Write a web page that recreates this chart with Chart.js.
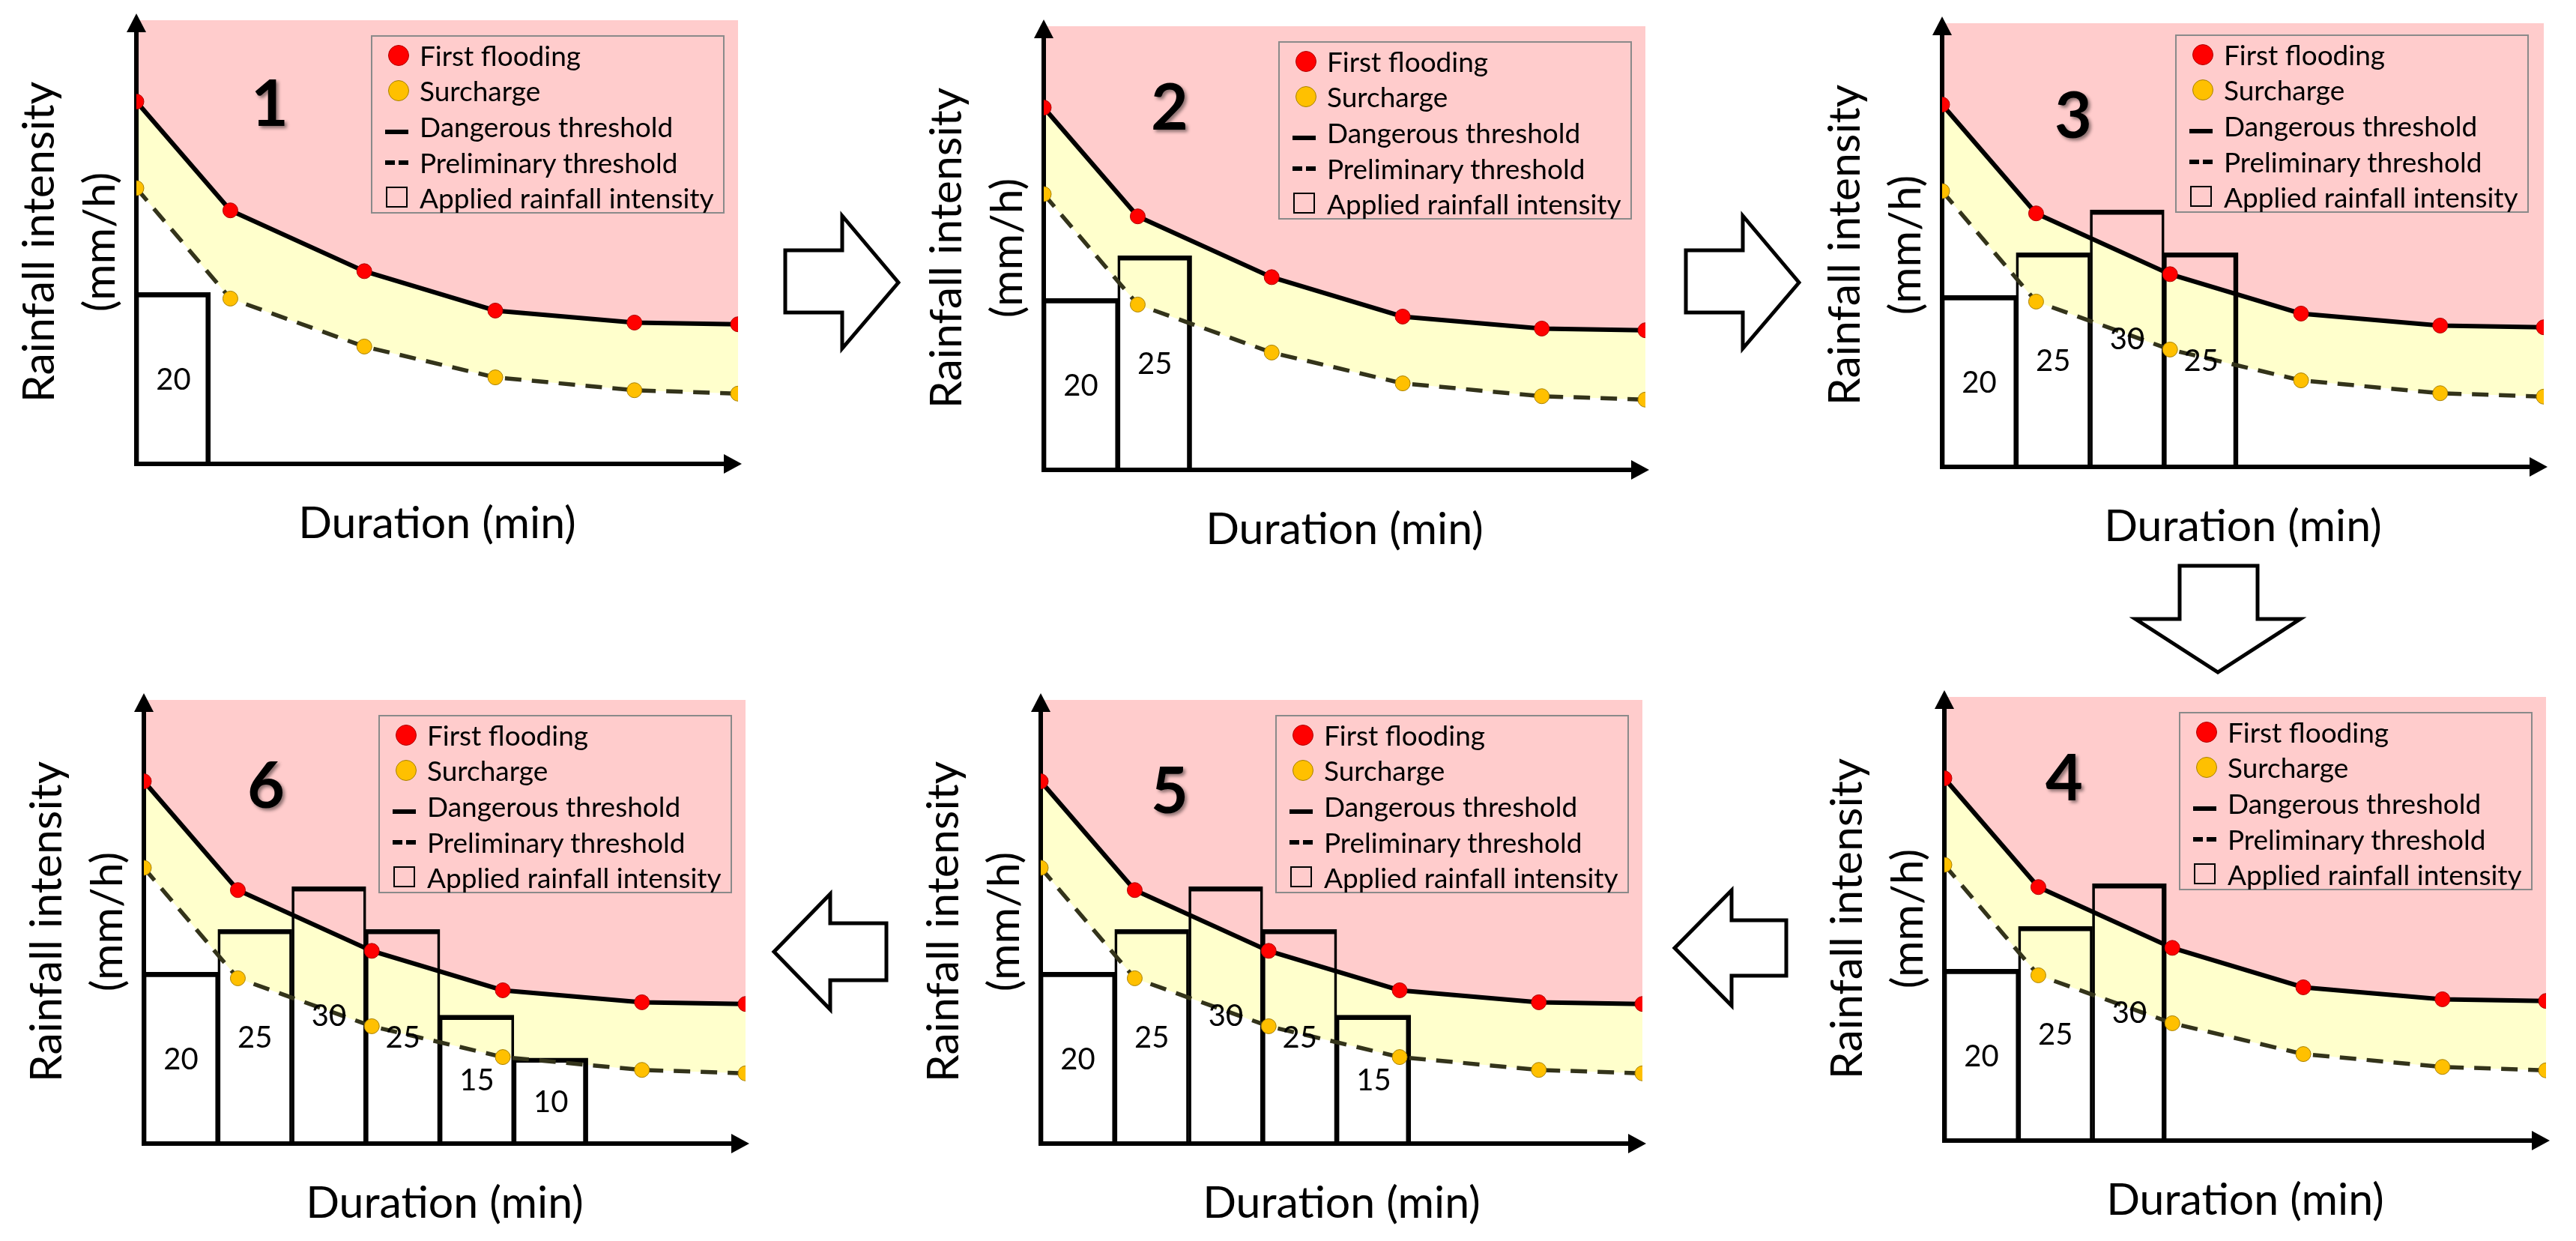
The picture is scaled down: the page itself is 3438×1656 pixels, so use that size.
<!DOCTYPE html>
<html>
<head>
<meta charset="utf-8">
<script src="https://cdn.jsdelivr.net/npm/chart.js@4.4.1/dist/chart.umd.min.js"></script>
<style>
  html, body { margin: 0; padding: 0; background: #fff; }
  body { width: 3438px; height: 1656px; position: relative; overflow: hidden; font-family: Lato, "Open Sans", sans-serif; }
  canvas.panel { position: absolute; }
  .legend { position: absolute; width: 472px; height: 238px; border: 2px solid #8a8a8a; box-sizing: border-box; }
  .legend .row { position: absolute; left: 63px; height: 48px; line-height: 48px; font-size: 37px; white-space: nowrap; color: #000; }
  .legend .sym { position: absolute; box-sizing: border-box; }
  .num { position: absolute; font-weight: 700; font-size: 86px; line-height: 1; transform: translate(-50%, -50%); text-shadow: 3px 3px 4px rgba(0, 0, 0, 0.45); color: #000; }
  #arrows { position: absolute; left: 0; top: 0; }
</style>
</head>
<body>
<svg id="arrows" width="3438" height="1656">
  <g fill="#fff" stroke="#000" stroke-width="5" stroke-linejoin="miter">
    <polygon points="1048,334 1124,334 1124,288 1199,377 1124,465 1124,417 1048,417"/>
    <polygon points="2250,334 2326,334 2326,288 2401,377 2326,465 2326,417 2250,417"/>
    <polygon points="2909,755 3013,755 3013,826 3070,826 2960,897 2850,826 2909,826"/>
    <polygon points="2384,1228 2311,1228 2311,1188 2235,1265 2311,1342 2311,1302 2384,1302"/>
    <polygon points="1183,1232 1108,1232 1108,1193 1033,1270 1108,1347 1108,1308 1183,1308"/>
  </g>
</svg>
<script>
// durations of the threshold points (min) and thresholds (mm/h)
const durations = [0, 12.7, 30.8, 48.5, 67.3, 81.3];
const firstFlooding = [42.3, 29.6, 22.5, 17.9, 16.5, 16.3];
const surcharge = [32.2, 19.3, 13.7, 10.1, 8.6, 8.2];

// applied rainfall intensity, one block per step
const appliedStep = 10;
const applied1 = [20];
const applied2 = [20, 25];
const applied3 = [20, 25, 30, 25];
const applied4 = [20, 25, 30];
const applied5 = [20, 25, 30, 25, 15];
const applied6 = [20, 25, 30, 25, 15, 10];

const legendLabels = ["First flooding", "Surcharge", "Dangerous threshold", "Preliminary threshold", "Applied rainfall intensity"];

const panels = [
  { name: "1", bars: applied1, x: 182, y: 619, nx: 178, ny: 108, lx: 313, ly: 20 },
  { name: "2", bars: applied2, x: 1393, y: 627, nx: 168, ny: 105, lx: 313, ly: 20 },
  { name: "3", bars: applied3, x: 2592, y: 623, nx: 175, ny: 120, lx: 311, ly: 15 },
  { name: "4", bars: applied4, x: 2595, y: 1522, nx: 160, ny: 105, lx: 313, ly: 20 },
  { name: "5", bars: applied5, x: 1389, y: 1526, nx: 172, ny: 118, lx: 313, ly: 20 },
  { name: "6", bars: applied6, x: 192, y: 1526, nx: 163, ny: 111, lx: 313, ly: 20 },
];

Chart.defaults.font.family = "Lato";
Chart.defaults.color = "#000";

const axisArrows = {
  id: "axisArrows",
  beforeDatasetsDraw(chart) {
    const { ctx, chartArea: a, scales } = chart;
    const x0 = scales.x.getPixelForValue(0);
    const y0 = scales.y.getPixelForValue(0);
    ctx.save();
    ctx.strokeStyle = "#000";
    ctx.fillStyle = "#000";
    ctx.lineWidth = 6;
    ctx.beginPath();
    ctx.moveTo(x0, y0 + 3);
    ctx.lineTo(x0, a.top + 10);
    ctx.moveTo(x0 - 3, y0);
    ctx.lineTo(a.right - 10, y0);
    ctx.stroke();
    // heads
    ctx.beginPath();
    ctx.moveTo(x0, a.top - 9);
    ctx.lineTo(x0 - 13, a.top + 16);
    ctx.lineTo(x0 + 13, a.top + 16);
    ctx.closePath();
    ctx.fill();
    ctx.beginPath();
    ctx.moveTo(a.right + 5, y0);
    ctx.lineTo(a.right - 19, y0 - 13);
    ctx.lineTo(a.right - 19, y0 + 13);
    ctx.closePath();
    ctx.fill();
    ctx.restore();
  },
  afterDatasetsDraw(chart) {
    const { ctx } = chart;
    const meta = chart.getDatasetMeta(2);
    const vals = chart.data.datasets[2].data;
    ctx.save();
    ctx.font = "40px Lato";
    ctx.fillStyle = "#000";
    ctx.textAlign = "center";
    ctx.textBaseline = "middle";
    meta.data.forEach((bar, i) => {
      ctx.fillText(String(vals[i].y), bar.x, (bar.y + bar.base) / 2 + 2);
    });
    ctx.restore();
  },
};

function addLegend(p, top) {
  const box = document.createElement("div");
  box.className = "legend";
  box.style.left = (p.x + p.lx) + "px";
  box.style.top = (top + p.ly) + "px";
  const centers = [25, 72, 120, 168, 215];
  centers.forEach((c, i) => {
    const row = document.createElement("div");
    row.className = "row";
    row.style.top = (c - 24) + "px";
    row.textContent = legendLabels[i];
    box.appendChild(row);
  });
  const syms = [
    { l: 21, t: 11, w: 28, h: 28, bg: "#ff0000", b: "1px solid #b00000", r: "50%" },
    { l: 21, t: 58, w: 28, h: 28, bg: "#ffc000", b: "1px solid #a88000", r: "50%" },
    { l: 17, t: 124, w: 31, h: 6, bg: "#000" },
    { l: 17, t: 165, w: 13, h: 6, bg: "#000" },
    { l: 35, t: 165, w: 13, h: 6, bg: "#000" },
    { l: 18, t: 200, w: 29, h: 28, bg: "transparent", b: "2.5px solid #000" },
  ];
  syms.forEach((s) => {
    const d = document.createElement("div");
    d.className = "sym";
    d.style.left = s.l + "px";
    d.style.top = s.t + "px";
    d.style.width = s.w + "px";
    d.style.height = s.h + "px";
    d.style.background = s.bg;
    if (s.b) d.style.border = s.b;
    if (s.r) d.style.borderRadius = s.r;
    box.appendChild(d);
  });
  document.body.appendChild(box);
}

function makePanel(p) {
  const top = p.y - 592;
  const canvas = document.createElement("canvas");
  canvas.className = "panel";
  canvas.width = 1010;
  canvas.height = 742;
  canvas.style.left = (p.x - 182) + "px";
  canvas.style.top = (top - 20) + "px";
  document.body.appendChild(canvas);

  new Chart(canvas, {
    type: "line",
    data: {
      datasets: [
        {
          label: legendLabels[2],
          data: durations.map((d, i) => ({ x: d, y: firstFlooding[i] })),
          borderColor: "#000",
          borderWidth: 6,
          backgroundColor: "#ffcccc",
          fill: "end",
          tension: 0,
          pointRadius: 10,
          pointBackgroundColor: "#ff0000",
          pointBorderColor: "#b00000",
          pointBorderWidth: 1,
          order: 1,
        },
        {
          label: legendLabels[3],
          data: durations.map((d, i) => ({ x: d, y: surcharge[i] })),
          borderColor: "#33331a",
          borderWidth: 5.5,
          borderDash: [22, 14],
          backgroundColor: "#ffffcc",
          fill: "-1",
          tension: 0,
          pointRadius: 10,
          pointBackgroundColor: "#ffc000",
          pointBorderColor: "#a88000",
          pointBorderWidth: 1,
          order: 2,
        },
        {
          type: "bar",
          label: legendLabels[4],
          data: p.bars.map((v, i) => ({ x: appliedStep * (i + 0.5), y: v })),
          backgroundColor: "rgba(0,0,0,0)",
          borderColor: "#000",
          borderWidth: (c) => ({
            top: 6,
            bottom: 0,
            left: 3,
            right: c.dataIndex === c.dataset.data.length - 1 ? 6 : 3,
          }),
          borderSkipped: "start",
          barPercentage: 1,
          categoryPercentage: 1,
          order: 3,
        },
      ],
    },
    options: {
      responsive: false,
      animation: false,
      events: [],
      layout: { padding: { top: 20, right: 25, left: 0, bottom: 0 } },
      plugins: {
        legend: { display: false },
        tooltip: { enabled: false },
        filler: { drawTime: "beforeDatasetsDraw" },
      },
      scales: {
        x: {
          type: "linear",
          min: 0,
          max: durations[durations.length - 1],
          offset: false,
          grid: { display: false, drawTicks: false },
          border: { display: false },
          ticks: { display: false, stepSize: appliedStep, includeBounds: false },
          title: {
            display: true,
            text: "Duration (min)",
            color: "#000",
            font: { family: "Lato", size: 59, lineHeight: 1.2 },
            padding: { top: 0, bottom: 15 },
          },
          afterFit(s) { s.height = 130; },
        },
        y: {
          min: 0,
          max: 51.8,
          grid: { display: false, drawTicks: false },
          border: { display: false },
          ticks: { display: false },
          title: {
            display: true,
            text: ["Rainfall intensity", "(mm/h)"],
            color: "#000",
            font: { family: "Lato", size: 59, lineHeight: 1.373 },
            padding: { top: 12, bottom: 0 },
          },
          afterFit(s) { s.width = 182; },
        },
      },
    },
    plugins: [axisArrows],
  });

  addLegend(p, top);

  const num = document.createElement("div");
  num.className = "num";
  num.textContent = p.name;
  num.style.left = (p.x + p.nx) + "px";
  num.style.top = (top + p.ny) + "px";
  document.body.appendChild(num);
}

panels.forEach(makePanel);
</script>
</body>
</html>
